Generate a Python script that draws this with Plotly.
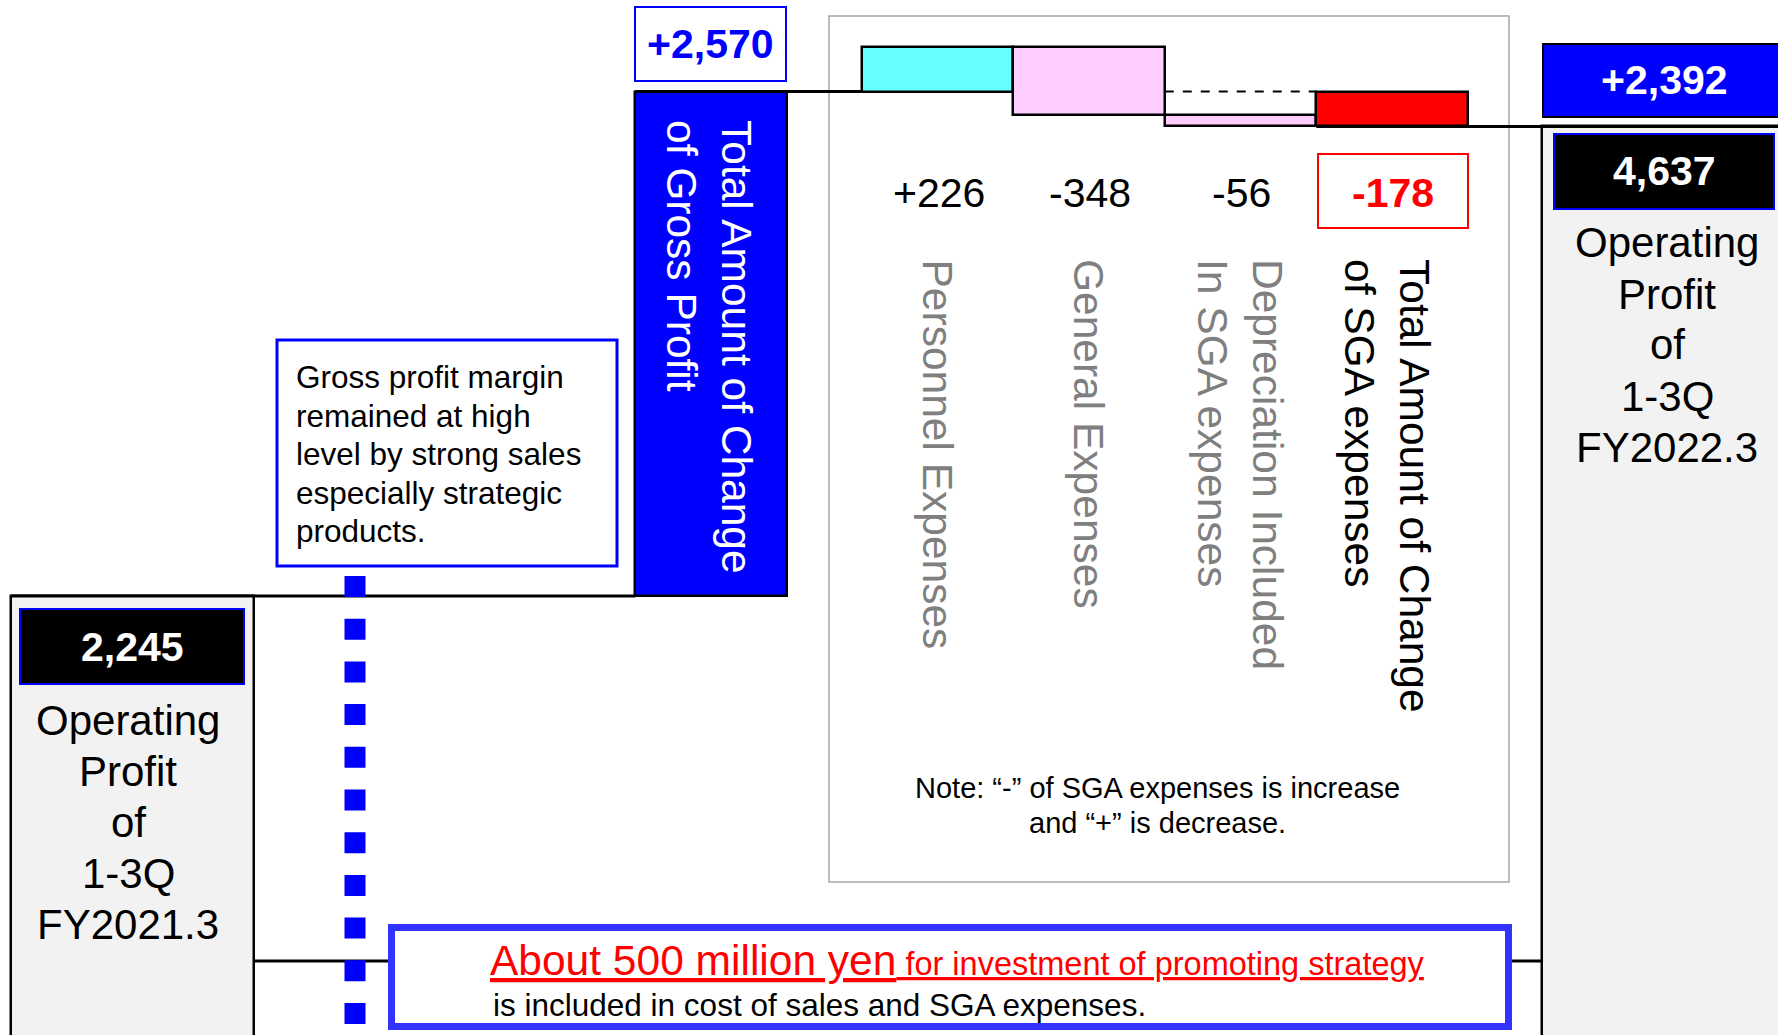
import plotly.graph_objects as go

# ---------------- data ----------------
start_value = 2245                      # Operating profit 1-3Q FY2021.3
gross_profit_change = 2570              # Total amount of change of gross profit
sga_categories = ["Personnel Expenses", "General Expenses",
                  "Depreciation Included<br>In SGA expenses"]
sga_values = [226, -348, -56]           # SGA items ("-" = increase of expense)
end_value = 4637                        # Operating profit 1-3Q FY2022.3

start_label = ["Operating", "Profit", "of", "1-3Q", "FY2021.3"]
end_label = ["Operating", "Profit", "of", "1-3Q", "FY2022.3"]
gp_label = "Total Amount of Change<br>of Gross Profit"
sga_total_label = "Total Amount of Change<br>of SGA expenses"
note_gp = ["Gross profit margin", "remained at high", "level by strong sales",
           "especially strategic", "products."]
note_sga = ["Note: \u201c-\u201d of SGA expenses is increase",
            "and \u201c+\u201d is decrease."]
invest_big = "About 500 million yen"
invest_small = " for investment of promoting strategy"
invest_line2 = "is included in cost of sales and SGA expenses."

# ---------------- derived values ----------------
sga_total = sum(sga_values)
level_gp = start_value + gross_profit_change
total_change = end_value - start_value

# ---------------- layout constants ----------------
W, H = 1778, 1035
FONT = "Arial, Liberation Sans, sans-serif"
BAR_W = 151.5
START_X, START_W = 132.5, 243
GP_X = 711
SGA_X = [937.5, 1089, 1240.5]
SGA_TOTAL_X = 1392
END_X, END_W = 1663.5, 243

K = 0.1963      # px per unit
Y0 = 1036.7     # pixel of value 0
y_range = [(Y0 - H) / K, Y0 / K]


def pp(pix):
    """pixel row -> paper coordinate"""
    return 1 - pix / H


# ---------------- bars ----------------
xs, bases, heights, widths, colors = [], [], [], [], []


def add_bar(x, a, b, w, c):
    xs.append(x)
    bases.append(min(a, b))
    heights.append(abs(b - a))
    widths.append(w)
    colors.append(c)


add_bar(START_X, 0, start_value, START_W, "#f2f2f2")
add_bar(GP_X, start_value, level_gp, BAR_W, "#0000ff")
lvl = level_gp
sga_colors = ["#66ffff", "#ffccff", "#ffccff"]
for x, v, c in zip(SGA_X, sga_values, sga_colors):
    add_bar(x, lvl, lvl + v, BAR_W, c)
    lvl += v
add_bar(SGA_TOTAL_X, level_gp, level_gp + sga_total, BAR_W, "#ff0000")
add_bar(END_X, 0, end_value, END_W, "#f2f2f2")

fig = go.Figure(go.Bar(
    x=xs, y=heights, base=bases, width=widths,
    marker=dict(color=colors, line=dict(color="black", width=2.5)),
    hoverinfo="skip", showlegend=False,
))

shapes = []
annotations = []


def rect(x0, x1, y0, y1, line_color, line_width, fill, layer="above"):
    shapes.append(dict(type="rect", xref="x", yref="paper",
                       x0=x0, x1=x1, y0=pp(y0), y1=pp(y1),
                       line=dict(color=line_color, width=line_width),
                       fillcolor=fill, layer=layer))


def hline_data(x0, x1, v, width=3, dash="solid"):
    shapes.append(dict(type="line", xref="x", yref="y", x0=x0, x1=x1, y0=v, y1=v,
                       line=dict(color="black", width=width, dash=dash)))


def ann(x, y, text, size, color="black", bold=False, angle=0, xanchor="center",
        yanchor="middle", align="center"):
    if bold:
        text = "<b>" + text + "</b>"
    annotations.append(dict(x=x, y=pp(y), xref="x", yref="paper", text=text,
                            showarrow=False, textangle=angle,
                            xanchor=xanchor, yanchor=yanchor, align=align,
                            font=dict(family=FONT, size=size, color=color)))


def ann_lines(x, y_first, spacing, lines, size, color="black", xanchor="center"):
    for i, t in enumerate(lines):
        ann(x, y_first + i * spacing, t, size, color, xanchor=xanchor,
            align="left" if xanchor == "left" else "center")


# inset frame
rect(829, 1509, 16, 882, "#a6a6a6", 1.5, "rgba(0,0,0,0)", layer="below")

# connectors
hline_data(START_X - START_W / 2, GP_X - BAR_W / 2, start_value)
hline_data(GP_X - BAR_W / 2, SGA_X[0] - BAR_W / 2, level_gp)
hline_data(SGA_X[1] + BAR_W / 2, SGA_TOTAL_X - BAR_W / 2, level_gp, width=2, dash="dash")
hline_data(SGA_TOTAL_X - BAR_W / 2, W, end_value)

# decorative base line (hidden partly by the bottom box)
shapes.append(dict(type="line", xref="x", yref="paper",
                   x0=START_X + START_W / 2, x1=END_X - END_W / 2,
                   y0=pp(961), y1=pp(961), line=dict(color="black", width=3)))

# bottom box
rect(391.5, 1508.5, 927.5, 1026.5, "#3333ff", 7, "white")
# blue dotted vertical line
shapes.append(dict(type="line", xref="x", yref="paper", x0=355, x1=355,
                   y0=pp(576), y1=pp(1070),
                   line=dict(color="#0000ff", width=21, dash="21px,21.7px")))
# gross profit note box
rect(277, 617, 340, 566, "#0000ff", 3, "white")
# value boxes
rect(635, 786, 7, 81, "#0000ff", 2, "white")
rect(SGA_TOTAL_X - 74, SGA_TOTAL_X + 76, 154, 228, "#ff0000", 2, "white")
rect(20, 244, 609, 684, "#0000ff", 2, "black")
rect(1543, 1800, 44, 117, "black", 2, "#0000ff")
rect(1554, 1774, 134, 209, "#0000ff", 2, "black")

# ---------------- texts ----------------
ann(710.5, 44, f"{gross_profit_change:+,}", 41, "#0000ff", bold=True)
ann(132, 646.5, f"{start_value:,}", 41, "white", bold=True)
ann_lines(128, 720, 51, start_label, 42)
ann(1664, 80, f"{total_change:+,}", 41, "white", bold=True)
ann(1664, 171.5, f"{end_value:,}", 41, "white", bold=True)
ann_lines(1667, 243, 51, end_label, 42)

ann(GP_X - 2, 118, gp_label, 42.5, "white", angle=90, yanchor="top", align="left")

for x, v, name in zip(SGA_X, sga_values, sga_categories):
    ann(x + 1, 193, f"{v:+,}", 41)
    ann(x - 1, 257, name, 42.5, "#7f7f7f", angle=90, yanchor="top", align="left")
ann(SGA_TOTAL_X + 1, 193, f"{sga_total:+,}", 41, "#ff0000", bold=True)
ann(SGA_TOTAL_X - 5, 257, sga_total_label, 42.5, "black", angle=90, yanchor="top", align="left")

ann_lines(1157, 788, 35, note_sga, 29)
ann_lines(294, 377, 38.5, note_gp, 31.5, xanchor="left")

annotations.append(dict(
    x=488, y=pp(960), xref="x", yref="paper", showarrow=False,
    xanchor="left", yanchor="middle",
    text=f"<u>{invest_big}<span style='font-size:32.5px'>{invest_small}</span></u>",
    font=dict(family=FONT, size=42.5, color="#ff0000")))
ann(491, 1005, invest_line2, 31.5, xanchor="left", align="left")

fig.update_layout(
    width=W, height=H,
    margin=dict(l=0, r=0, t=0, b=0),
    paper_bgcolor="white", plot_bgcolor="white",
    xaxis=dict(range=[0, W], visible=False, fixedrange=True),
    yaxis=dict(range=y_range, visible=False, fixedrange=True),
    barmode="overlay", bargap=0,
    shapes=shapes, annotations=annotations,
    showlegend=False, hovermode=False,
    font=dict(family=FONT),
)

fig.write_html("out.html", config={"displayModeBar": False},
               post_script="document.body.style.margin='0';"
                           "document.body.style.overflow='hidden';")
